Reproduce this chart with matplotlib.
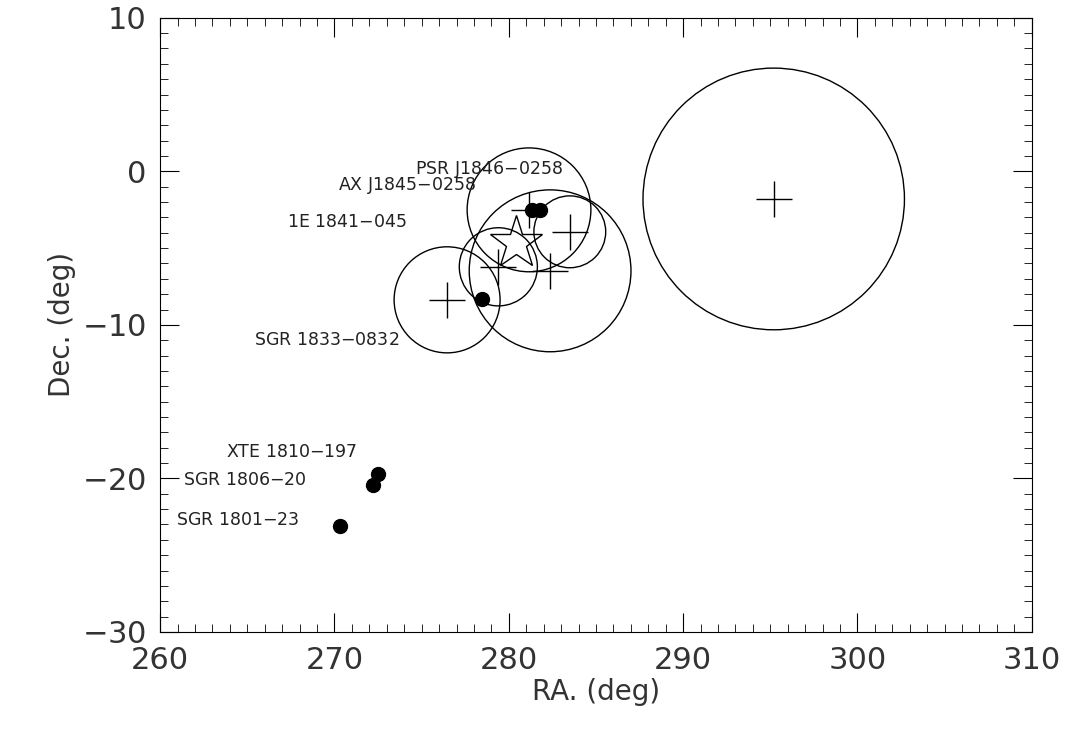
import matplotlib.pyplot as plt
from matplotlib.patches import Ellipse
from matplotlib.ticker import MultipleLocator

# error circles: ra, dec, radius (deg along RA)
circ_ra = [295.2, 281.16, 283.50, 282.37, 279.40, 276.46]
circ_dec = [-1.8, -2.51, -3.94, -6.48, -6.22, -8.37]
circ_r = [7.5, 3.55, 2.06, 4.64, 2.24, 3.04]

# known sources
src_ra = [281.33, 281.79, 278.46, 272.5, 272.2, 270.3]
src_dec = [-2.55, -2.55, -8.32, -19.7, -20.4, -23.1]
star_ra, star_dec = 280.4, -4.66

lab_txt = ['PSR J1846$-$0258', 'AX J1845$-$0258', '1E 1841$-$045', 'SGR 1833$-$0832',
           'XTE 1810$-$197', 'SGR 1806$-$20', 'SGR 1801$-$23']
lab_ra = [274.6, 270.2, 267.3, 265.4, 263.8, 261.3, 260.9]
lab_dec = [0.1, -0.9, -3.3, -11.0, -18.3, -20.1, -22.7]

fig = plt.figure(figsize=(10.68, 7.4), dpi=100)
ax = fig.add_axes([0.15, 0.146, 0.816, 0.83])
ax.set_xlim(260, 310)
ax.set_ylim(-30, 10)

yfac = (872 / 50) / (614 / 40)  # so the circles come out round on screen
for x, y, r in zip(circ_ra, circ_dec, circ_r):
    ax.add_patch(Ellipse((x, y), 2 * r, 2 * r * yfac, fill=False, lw=1.0, color='k'))
    ax.plot(x, y, marker='+', ms=26, mew=1.0, color='k')

ax.plot(src_ra, src_dec, 'o', ms=10, color='k')
ax.plot(star_ra, star_dec, marker='*', ms=40, mfc='none', mec='k', mew=1.0)

for t, x, y in zip(lab_txt, lab_ra, lab_dec):
    ax.text(x, y, t, fontsize=12.5, va='center', ha='left', color='#222222')

ax.xaxis.set_minor_locator(MultipleLocator(1))
ax.yaxis.set_minor_locator(MultipleLocator(1))
ax.tick_params(which='both', direction='in', top=True, right=True, labelsize=22, pad=10,
               labelcolor='#333333')
ax.tick_params(which='major', length=14)
ax.tick_params(which='minor', length=6)
ax.set_xticks([260, 270, 280, 290, 300, 310])
ax.set_xticklabels(['260', '270', '280', '290', '300', '310'])
ax.set_yticks([10, 0, -10, -20, -30])
ax.set_yticklabels(['10', '0', '$-$10', '$-$20', '$-$30'])
ax.set_xlabel('RA. (deg)', fontsize=20, labelpad=2, color='#333333')
ax.set_ylabel('Dec. (deg)', fontsize=20, labelpad=4, color='#333333')

fig.savefig('out.png', dpi=100)
